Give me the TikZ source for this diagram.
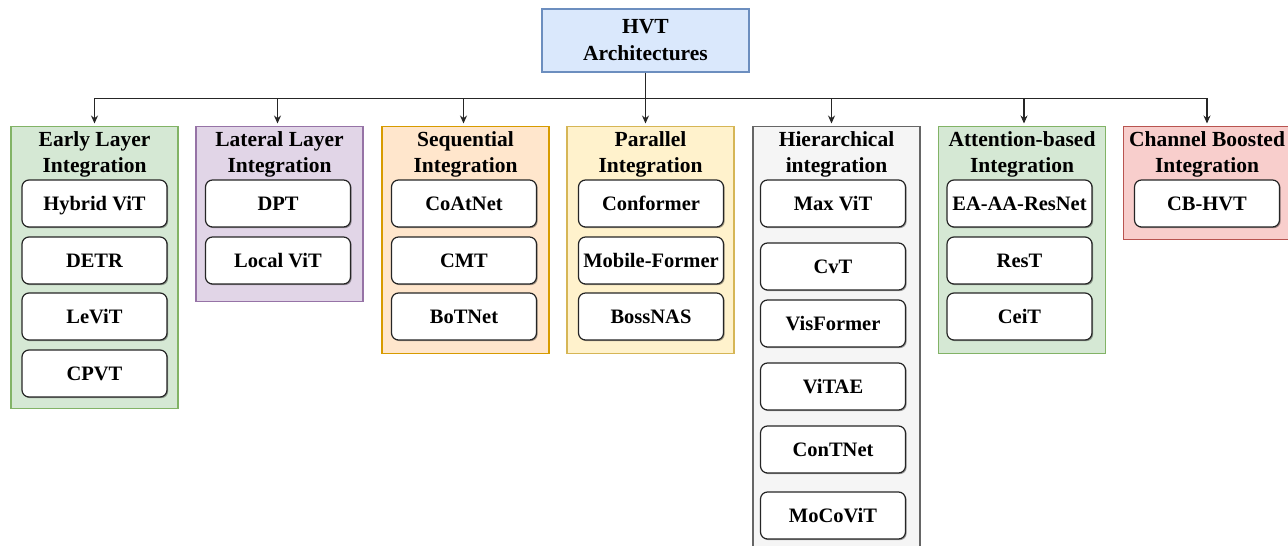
\documentclass[tikz,border=0pt]{standalone}
\usepackage{fontspec}
\setmainfont{Liberation Serif}
\usetikzlibrary{arrows.meta,shadows,calc}
\definecolor{rootfill}{HTML}{DAE8FC}\definecolor{rootdraw}{HTML}{6C8EBF}
\definecolor{gfill}{HTML}{D5E8D4}\definecolor{gdraw}{HTML}{82B366}
\definecolor{pfill}{HTML}{E1D5E7}\definecolor{pdraw}{HTML}{9673A6}
\definecolor{ofill}{HTML}{FFE6CC}\definecolor{odraw}{HTML}{D79B00}
\definecolor{yfill}{HTML}{FFF2CC}\definecolor{ydraw}{HTML}{D6B656}
\definecolor{hfill}{HTML}{F5F5F5}\definecolor{hdraw}{HTML}{666666}
\definecolor{rfill}{HTML}{F8CECC}\definecolor{rdraw}{HTML}{B85450}
\begin{document}
\begin{tikzpicture}[x=1pt,y=-1pt,
  rootbox/.style={draw=rootdraw,fill=rootfill,line width=1.2pt,minimum width=207pt,minimum height=63pt,inner sep=0pt,align=center,font=\fontsize{21.5}{27}\selectfont\bfseries},
  group/.style={line width=1.4pt,minimum width=167pt,anchor=north,inner sep=0pt},
  gtitle/.style={anchor=north,inner sep=0pt,align=center,font=\fontsize{21.5}{26.5}\selectfont\bfseries},
  item/.style={draw=black!85,fill=white,line width=1.2pt,rounded corners=7pt,minimum width=145pt,minimum height=47pt,inner sep=0pt,text height=13.6pt,text depth=0pt,font=\fontsize{20.5}{24}\selectfont\bfseries,drop shadow={shadow xshift=1.2pt,shadow yshift=-1.2pt,opacity=0.35,fill=black}},
  arr/.style={draw=black!85,line width=1.1pt,-{Stealth[length=8pt,width=7pt]},shorten >=2pt}
]
\useasboundingbox (0,0) rectangle (1288,546);
% root
\node[rootbox] (root) at (645.5,40.5) {HVT\\Architectures};
% groups
\node[group,draw=gdraw,fill=gfill,minimum height=282pt] (early) at (94.5,125.5) {};
\node[group,draw=pdraw,fill=pfill,minimum height=175pt] (lateral) at (279.5,125.5) {};
\node[group,draw=odraw,fill=ofill,minimum height=227pt] (seq) at (465.5,125.5) {};
\node[group,draw=ydraw,fill=yfill,minimum height=227pt] (par) at (650.5,125.5) {};
\node[group,draw=hdraw,fill=hfill,minimum height=440pt] (hier) at (836.5,125.5) {};
\node[group,draw=gdraw,fill=gfill,minimum height=227pt] (attn) at (1022,125.5) {};
\node[group,draw=rdraw,fill=rfill,minimum height=113pt] (cb) at (1207,125.5) {};
% titles
\node[gtitle] (earlyT) at ($(early.north)+(0,5.5)$) {Early Layer\\Integration};
\node[gtitle] (lateralT) at ($(lateral.north)+(0,5.5)$) {Lateral Layer\\Integration};
\node[gtitle] (seqT) at ($(seq.north)+(0,5.5)$) {Sequential\\Integration};
\node[gtitle] (parT) at ($(par.north)+(0,5.5)$) {Parallel\\Integration};
\node[gtitle] (hierT) at ($(hier.north)+(0,5.5)$) {Hierarchical\\integration};
\node[gtitle] (attnT) at ($(attn.north)+(0,5.5)$) {Attention-based\\Integration};
\node[gtitle] (cbT) at ($(cb.north)+(0,5.5)$) {Channel Boosted\\Integration};
% items
\node[item] (e1) at (94.5,203.5) {Hybrid ViT};
\node[item] (e2) at (94.5,260.5) {DETR};
\node[item] (e3) at (94.5,316.5) {LeViT};
\node[item] (e4) at (94.5,373.5) {CPVT};
\node[item] (l1) at (278,203.5) {DPT};
\node[item] (l2) at (278,260.5) {Local ViT};
\node[item] (s1) at (464,203.5) {CoAtNet};
\node[item] (s2) at (464,260.5) {CMT};
\node[item] (s3) at (464,316.5) {BoTNet};
\node[item] (p1) at (651,203.5) {Conformer};
\node[item] (p2) at (651,260.5) {Mobile-Former};
\node[item] (p3) at (651,316.5) {BossNAS};
\node[item] (h1) at (833,203.5) {Max ViT};
\node[item] (h2) at (833,266.5) {CvT};
\node[item] (h3) at (833,323.5) {VisFormer};
\node[item] (h4) at (833,386.5) {ViTAE};
\node[item] (h5) at (833,449.5) {ConTNet};
\node[item] (h6) at (833,515.5) {MoCoViT};
\node[item] (a1) at (1019.5,203.5) {EA-AA-ResNet};
\node[item] (a2) at (1019.5,260.5) {ResT};
\node[item] (a3) at (1019.5,316.5) {CeiT};
\node[item] (c1) at (1207,203.5) {CB-HVT};
% connectors
\coordinate (bus) at ($(root.south)+(0,26)$);
\draw[arr] (root.south) -- (root.south |- par.north);
\draw[arr] (bus) -| (early.north);
\draw[arr] (bus) -| ($(lateral.north)+(-2,0)$);
\draw[arr] (bus) -| ($(seq.north)+(-2,0)$);
\draw[arr] (bus) -| ($(hier.north)+(-5,0)$);
\draw[arr] (bus) -| ($(attn.north)+(2,0)$);
\draw[arr] (bus) -| (cb.north);
\end{tikzpicture}
\end{document}
